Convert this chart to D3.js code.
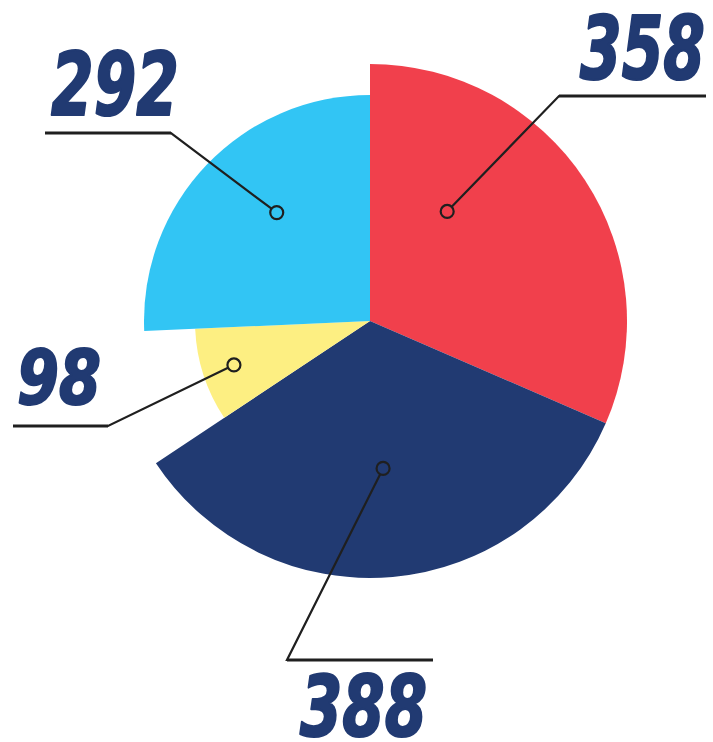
<!DOCTYPE html>
<html>
<head>
<meta charset="utf-8">
<script src="https://cdn.jsdelivr.net/npm/d3@7"></script>
<style>
	body { margin: 0; background: #fff; }
</style>
</head>
<body>
<div id="chart"></div>
<script>
// data
const labels = ['358', '388', '98', '292'];
const values = [358, 388, 98, 292];
const colors = ['#f1404c', '#213a72', '#fdef82', '#32c5f4'];
const radii = [257, 257, 175, 226];

// callout layout (dot position along slice, elbow, label box)
const dotFrac = [0.31, 0.5, 0.505, 0.56];
const dotDist = [134, 148, 143, 143];
const elbows = [[559, 96], [287, 660], [108, 426], [171, 133]];
const ends = [[706, 96], [433, 660], [13, 426], [45, 133]];
const textBox = [
	{ x: 580, y: 79, w: 125, size: 87 },
	{ x: 300, y: 736, w: 127, size: 84 },
	{ x: 17, y: 404, w: 84, size: 75 },
	{ x: 51, y: 115, w: 128, size: 88 }
];

const w = 713, h = 742;
const cx = 370, cy = 321;

let svg = d3.select('#chart').append('svg')
	.attr('width', w)
	.attr('height', h);

let pie = d3.pie().sort(null).value(d => d);
let arcs = pie(values);

let arc = d3.arc()
	.innerRadius(0)
	.outerRadius(d => radii[d.index]);

let g = svg.append('g').attr('transform', 'translate(' + cx + ',' + cy + ')');

g.selectAll('path')
	.data(arcs)
	.enter()
	.append('path')
	.attr('d', arc)
	.attr('fill', (d, i) => colors[i]);

// callouts
const dotR = 6.5;
arcs.forEach(function(d, i) {
	let a = d.startAngle + dotFrac[i] * (d.endAngle - d.startAngle);
	let px = cx + dotDist[i] * Math.sin(a);
	let py = cy - dotDist[i] * Math.cos(a);
	let ex = elbows[i][0], ey = elbows[i][1];
	let len = Math.hypot(ex - px, ey - py);
	let sx = px + (ex - px) / len * dotR;
	let sy = py + (ey - py) / len * dotR;

	svg.append('polyline')
		.attr('points', [[sx, sy], elbows[i], ends[i]].map(p => p.join(',')).join(' '))
		.attr('fill', 'none')
		.attr('stroke', '#1f1f1f')
		.attr('stroke-width', 2.2);

	// thicker underline
	svg.append('line')
		.attr('x1', elbows[i][0]).attr('y1', elbows[i][1])
		.attr('x2', ends[i][0]).attr('y2', ends[i][1])
		.attr('stroke', '#1f1f1f')
		.attr('stroke-width', 3);

	svg.append('circle')
		.attr('cx', px).attr('cy', py)
		.attr('r', dotR)
		.attr('fill', 'none')
		.attr('stroke', '#1f1f1f')
		.attr('stroke-width', 2.2);

	let t = textBox[i];
	svg.append('text')
		.attr('x', t.x).attr('y', t.y)
		.attr('font-family', 'DejaVu Sans')
		.attr('font-weight', 'bold')
		.attr('font-style', 'italic')
		.attr('font-size', t.size)
		.attr('textLength', t.w)
		.attr('lengthAdjust', 'spacingAndGlyphs')
		.attr('fill', '#213a72')
		.attr('stroke', '#213a72')
		.attr('stroke-width', 2.2)
		.attr('stroke-linejoin', 'round')
		.text(labels[i]);
});
</script>
</body>
</html>
